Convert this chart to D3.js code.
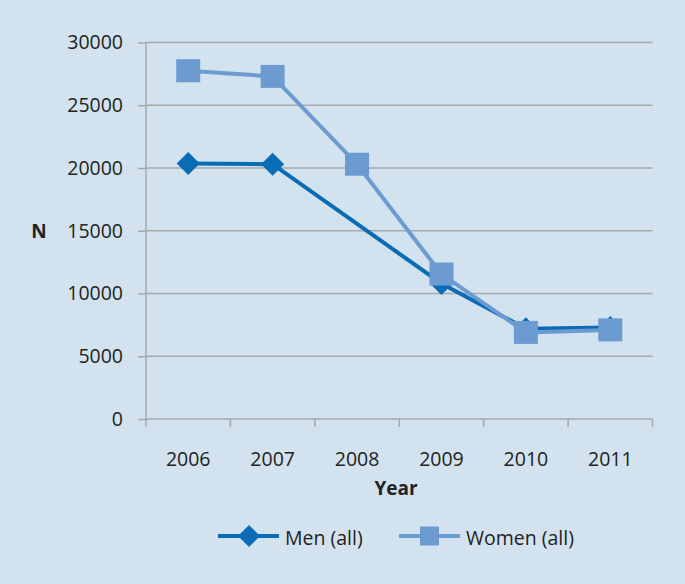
<!DOCTYPE html>
<html>
<head>
<meta charset="utf-8">
<script src="https://cdn.jsdelivr.net/npm/d3@7"></script>
<style>
  body { margin: 0; background: #d2e2ee; }
  svg { display: block; }
  text { font-family: "Open Sans", sans-serif; fill: #222; }
</style>
</head>
<body>
<script>
const years = ["2006", "2007", "2008", "2009", "2010", "2011"]
const men = [20350, 20300, null, 10800, 7200, 7300]
const women = [27750, 27300, 20300, 11550, 6900, 7100]
const yTicks = [0, 5000, 10000, 15000, 20000, 25000, 30000]
const seriesNames = ["Men (all)", "Women (all)"]

const W = 685, H = 584
const menColor = "#0a6cb4", womenColor = "#6b9bd0", gridColor = "#a6a9ac"

const svg = d3.select("body")
    .append("svg")
    .attr("width", W)
    .attr("height", H)

svg.append("rect")
    .attr("width", W)
    .attr("height", H)
    .attr("fill", "#d2e2ee")

const x = d3.scaleBand()
    .domain(years)
    .range([146, 652.5])
    .padding(0)

const y = d3.scaleLinear()
    .domain([0, 30000])
    .range([419, 42.5])

// gridlines
svg.append("g")
    .selectAll("line")
    .data(yTicks.filter(d => d > 0))
    .enter()
    .append("line")
    .attr("x1", 146)
    .attr("x2", 652.5)
    .attr("y1", d => y(d))
    .attr("y2", d => y(d))
    .attr("stroke", gridColor)
    .attr("stroke-width", 1.5)

// y axis
const yAxis = d3.axisLeft(y)
    .tickValues(yTicks)
    .tickSize(8)
    .tickPadding(15)
    .tickFormat(d3.format("d"))

const gy = svg.append("g")
    .attr("transform", "translate(146,0)")
    .call(yAxis)
gy.select(".domain").remove()
gy.selectAll(".tick line").attr("stroke", gridColor).attr("stroke-width", 1.5)
gy.selectAll(".tick text").style("font-size", "19.5px").attr("fill", "#222")
gy.append("line")
    .attr("y1", y(30000))
    .attr("y2", y(0) + 2)
    .attr("stroke", gridColor)
    .attr("stroke-width", 1.5)

// x axis
const xAxis = d3.axisBottom(x)
    .tickSize(0)
    .tickPadding(33)

const gx = svg.append("g")
    .attr("transform", "translate(0,419)")
    .call(xAxis)
gx.select(".domain").remove()
gx.selectAll(".tick text").style("font-size", "19.5px").attr("fill", "#222")
gx.append("line")
    .attr("x1", 146)
    .attr("x2", 652.5)
    .attr("stroke", gridColor)
    .attr("stroke-width", 1.5)
gx.selectAll(".btick")
    .data(years.concat(["end"]))
    .enter()
    .append("line")
    .attr("class", "btick")
    .attr("x1", (d, i) => i < years.length ? x(d) : x(years[years.length - 1]) + x.bandwidth())
    .attr("x2", (d, i) => i < years.length ? x(d) : x(years[years.length - 1]) + x.bandwidth())
    .attr("y1", 0)
    .attr("y2", 8)
    .attr("stroke", gridColor)
    .attr("stroke-width", 1.5)

// axis titles
svg.append("text")
    .attr("x", 396)
    .attr("y", 495)
    .attr("text-anchor", "middle")
    .style("font-size", "19px")
    .style("font-weight", "bold")
    .text("Year")

svg.append("text")
    .attr("x", 39)
    .attr("y", 238)
    .attr("text-anchor", "middle")
    .style("font-size", "19px")
    .style("font-weight", "bold")
    .text("N")

const cx = d => x(d.year) + x.bandwidth() / 2

function pts(vals) {
    return years.map((yr, i) => ({year: yr, v: vals[i]})).filter(d => d.v != null)
}

const line = d3.line()
    .x(cx)
    .y(d => y(d.v))

const diamond = s => `M0,${-s}L${s},0L0,${s}L${-s},0Z`

// men
const menPts = pts(men)
svg.append("path")
    .datum(menPts)
    .attr("d", line)
    .attr("fill", "none")
    .attr("stroke", menColor)
    .attr("stroke-width", 4)
svg.selectAll(".men")
    .data(menPts)
    .enter()
    .append("path")
    .attr("class", "men")
    .attr("transform", d => `translate(${cx(d)},${y(d.v)})`)
    .attr("d", diamond(11.5))
    .attr("fill", menColor)

// women
const womenPts = pts(women)
svg.append("path")
    .datum(womenPts)
    .attr("d", line)
    .attr("fill", "none")
    .attr("stroke", womenColor)
    .attr("stroke-width", 4)
svg.selectAll(".women")
    .data(womenPts)
    .enter()
    .append("rect")
    .attr("class", "women")
    .attr("x", d => cx(d) - 12)
    .attr("y", d => y(d.v) - 11.5)
    .attr("width", 24)
    .attr("height", 23)
    .attr("fill", womenColor)

// legend
const legend = svg.append("g")
const lg = [
    {name: seriesNames[0], color: menColor, x0: 218},
    {name: seriesNames[1], color: womenColor, x0: 399}
]
lg.forEach((d, i) => {
    const g = legend.append("g").attr("transform", `translate(${d.x0},536)`)
    g.append("line")
        .attr("x1", 0).attr("x2", 61)
        .attr("stroke", d.color)
        .attr("stroke-width", 4)
    if (i === 0) {
        g.append("path")
            .attr("transform", "translate(31,0)")
            .attr("d", diamond(11))
            .attr("fill", d.color)
    } else {
        g.append("rect")
            .attr("x", 21).attr("y", -9.5)
            .attr("width", 19).attr("height", 19)
            .attr("fill", d.color)
    }
    g.append("text")
        .attr("x", 67)
        .attr("y", 9)
        .style("font-size", "19.5px")
        .text(d.name)
})
</script>
</body>
</html>
